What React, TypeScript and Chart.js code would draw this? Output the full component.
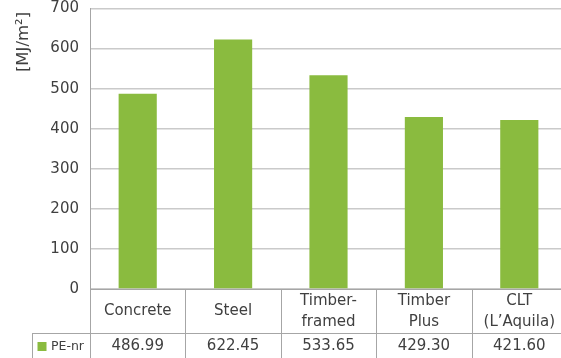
import React, { useEffect, useRef } from "react";
import { Chart, registerables } from "chart.js";

Chart.register(...registerables);

const categories = ["Concrete", "Steel", "Timber-framed", "Timber Plus", "CLT (L’Aquila)"];
const categoryLines = [["Concrete"], ["Steel"], ["Timber-", "framed"], ["Timber", "Plus"], ["CLT", "(L’Aquila)"]];
const seriesName = "PE-nr";
const peNr = [486.99, 622.45, 533.65, 429.3, 421.6];
const yTitle = "[MJ/m²]";
const yMin = 0;
const yMax = 700;
const yStep = 100;

const GREEN = "#8abb3f";
const TEXT = "#404040";
const LINE = "#a6a6a6";
const FONT = "'DejaVu Sans', sans-serif";
const PLOT_WIDTH = 477; // plot extends past the right edge of the picture

const tablePlugin = {
  id: "dataTable",
  afterLayout(chart: any) {
    const area = chart.chartArea;
    const x = chart.scales.x;
    const newRight = area.left + PLOT_WIDTH;
    area.right = newRight;
    area.width = newRight - area.left;
    x.right = newRight;
    x.width = newRight - x.left;
    x.configure();
  },
  afterDraw(chart: any) {
    const { ctx, chartArea } = chart;
    const x = chart.scales.x;
    const bottomY = chart.height + 2;
    const headTop = chartArea.bottom;
    const rowTop = headTop + 44;
    const spacing = x.getPixelForValue(1) - x.getPixelForValue(0);
    const legendLeft = 32;

    ctx.save();
    ctx.strokeStyle = LINE;
    ctx.lineWidth = 1;
    ctx.beginPath();
    ctx.moveTo(chartArea.left, Math.round(headTop) + 0.5);
    ctx.lineTo(chartArea.right, Math.round(headTop) + 0.5);
    ctx.moveTo(legendLeft, Math.round(rowTop) + 0.5);
    ctx.lineTo(chartArea.right, Math.round(rowTop) + 0.5);
    ctx.moveTo(legendLeft + 0.5, Math.round(rowTop));
    ctx.lineTo(legendLeft + 0.5, bottomY);
    for (let i = 0; i < categories.length; i++) {
      const bx = x.getPixelForValue(i) - spacing / 2;
      const px = Math.round(bx) + 0.5;
      ctx.moveTo(px, Math.round(headTop));
      ctx.lineTo(px, bottomY);
    }
    ctx.stroke();

    ctx.fillStyle = TEXT;
    ctx.textAlign = "center";
    ctx.textBaseline = "middle";
    ctx.font = `15px ${FONT}`;
    categoryLines.forEach((lines, i) => {
      const cx = x.getPixelForValue(i);
      const mid = headTop + 22.5;
      if (lines.length === 1) {
        ctx.fillText(lines[0], cx, mid);
      } else {
        ctx.fillText(lines[0], cx, mid - 10.5);
        ctx.fillText(lines[1], cx, mid + 10.5);
      }
    });

    peNr.forEach((v, i) => {
      const cx = x.getPixelForValue(i);
      ctx.fillText(v.toFixed(2), cx, rowTop + 13);
    });

    ctx.fillStyle = GREEN;
    ctx.fillRect(37.5, rowTop + 9, 9, 9);
    ctx.fillStyle = TEXT;
    ctx.textAlign = "left";
    ctx.font = `12.5px ${FONT}`;
    ctx.fillText(seriesName, 51, rowTop + 14);

    ctx.save();
    ctx.translate(24, 42);
    ctx.rotate(-Math.PI / 2);
    ctx.textAlign = "center";
    ctx.textBaseline = "middle";
    ctx.font = `16.5px ${FONT}`;
    ctx.fillStyle = TEXT;
    ctx.fillText(yTitle, 0, 0);
    ctx.restore();

    ctx.restore();
  },
};

export default function App() {
  const ref = useRef<HTMLCanvasElement>(null);
  useEffect(() => {
    if (!ref.current) return;
    const chart = new Chart(ref.current, {
      type: "bar",
      data: {
        labels: categories,
        datasets: [
          {
            label: seriesName,
            data: peNr,
            backgroundColor: GREEN,
            borderWidth: 0,
            categoryPercentage: 1,
            barPercentage: 0.4,
          },
        ],
      },
      options: {
        responsive: false,
        animation: false,
        devicePixelRatio: 1,
        layout: { padding: { top: 0, right: 0, bottom: 69, left: 0 } },
        plugins: {
          legend: { display: false },
          tooltip: { enabled: false },
          title: { display: false },
        },
        scales: {
          x: { display: false },
          y: {
            min: yMin,
            max: yMax,
            ticks: {
              stepSize: yStep,
              padding: 11,
              color: TEXT,
              font: { family: FONT, size: 15 },
            },
            grid: { color: "#cacaca", lineWidth: 1.5, drawTicks: false },
            border: { display: true, color: LINE, width: 1 },
            afterFit(scale: any) {
              scale.width = 90;
              scale.paddingTop = 8.5;
              scale.paddingBottom = 9;
            },
          },
        },
      },
      plugins: [tablePlugin],
    });
    return () => chart.destroy();
  }, []);
  return (
    <div style={{ position: "fixed", left: 0, top: 0, width: 561, height: 358, overflow: "hidden", background: "#fff" }}>
      <canvas ref={ref} width={561} height={358} style={{ display: "block" }} />
    </div>
  );
}
